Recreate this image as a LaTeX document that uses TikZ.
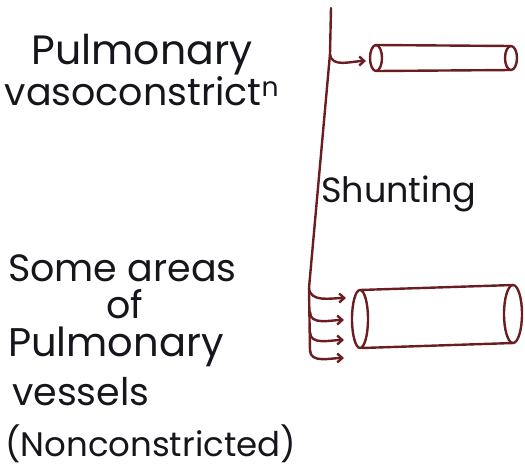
\documentclass[tikz,border=0pt]{standalone}
\usepackage{fontspec}
\setmainfont{Poppins}
\usetikzlibrary{arrows.meta}
\definecolor{PVMaroon}{HTML}{6B1E22}
\definecolor{PVInk}{HTML}{15161C}

\begin{document}
\begin{tikzpicture}[x=1pt,y=-1pt,line cap=round,line join=round,
  vessel/.style={draw=PVMaroon,line width=2.4pt},
  flow/.style={draw=PVMaroon,line width=2.4pt,-{Straight Barb[length=5pt,width=9pt]}},
  hand/.style={text=PVInk,font=\fontsize{38}{44}\selectfont,inner sep=0pt,anchor=base west}]
  \useasboundingbox (0,0) rectangle (525,472);
  % labels
  \node[hand,anchor=center,align=center,font=\fontsize{38}{37}\selectfont] (pvTitle) at (142,70)
    {{\fontsize{41}{37}\selectfont Pulmonary}\\vasoconstrict\textsuperscript{n}};
  \node[hand,font=\fontsize{35}{40}\selectfont] (shunt) at (321,202) {Shunting};
  \node[hand] (areaA) at (8,281) {Some areas};
  \node[hand] (areaB) at (106,318) {of};
  \node[hand,font=\fontsize{40}{46}\selectfont] (areaC) at (8,356) {Pulmonary};
  \node[hand] (areaD) at (12,405) {vessels};
  \node[hand,font=\fontsize{34}{40}\selectfont] (areaE) at (5,456) {(Nonconstricted)};
  % trunk and branches
  \coordinate (trunkTop) at (331,8);
  \coordinate (forkA) at (330,54);
  \coordinate (tipA) at (366,61);
  \coordinate (forkB) at (309,288);
  \coordinate (tipB) at (346,298);
  \coordinate (trunkEnd) at (310,352);
  \draw[vessel] (trunkTop) -- (forkA) -- (forkB) -- (trunkEnd);
  \draw[flow] (forkA) to[out=-85,in=180] (tipA);
  \draw[flow] (forkB) to[out=-85,in=180] (tipB);
  \foreach \y [count=\i] in {312,332,350} {
    \coordinate (br\i) at (310,\y);
    \coordinate (tp\i) at (344,\y+8);
    \draw[flow] (br\i) to[out=-90,in=180] (tp\i);
  }
  % constricted vessel
  \draw[vessel] (376,58) ellipse [x radius=6,y radius=13];
  \draw[vessel] (511,58) ellipse [x radius=6,y radius=12];
  \draw[vessel] (376,45) -- (511,46);
  \draw[vessel] (377,71) -- (511,70);
  % open vessel
  \draw[vessel] (360,319) ellipse [x radius=8,y radius=29];
  \draw[vessel] (513,314) ellipse [x radius=9,y radius=29];
  \draw[vessel] (360,290) -- (513,285);
  \draw[vessel] (362,348) -- (513,343);
\end{tikzpicture}
\end{document}
